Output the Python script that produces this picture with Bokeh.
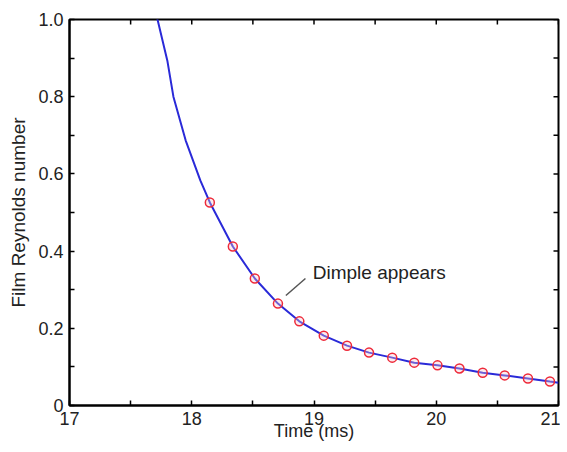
import math
from bokeh.plotting import figure
from bokeh.models import FixedTicker, Range1d
from bokeh.core.properties import value
from bokeh.embed import file_html
from bokeh.resources import INLINE

# ---- data ----
curve_time = [17.69, 17.72, 17.80, 17.85, 17.95, 18.07, 18.148, 18.336, 18.516, 18.705,
              18.88, 19.08, 19.27, 19.45, 19.64, 19.82, 20.01, 20.19, 20.38, 20.56,
              20.75, 20.93, 21.0]
curve_re = [1.06, 1.0, 0.894, 0.80, 0.687, 0.583, 0.526, 0.412, 0.329, 0.264,
            0.218, 0.181, 0.155, 0.137, 0.124, 0.111, 0.104, 0.096, 0.085, 0.078,
            0.070, 0.062, 0.059]
marker_time = [18.148, 18.336, 18.516, 18.705, 18.88, 19.08, 19.27, 19.45, 19.64,
               19.82, 20.01, 20.19, 20.38, 20.56, 20.75, 20.93]
marker_re = [0.526, 0.412, 0.329, 0.264, 0.218, 0.181, 0.155, 0.137, 0.124,
             0.111, 0.104, 0.096, 0.085, 0.078, 0.070, 0.062]

x_min, x_max = 17, 21
y_min, y_max = 0, 1.0
x_ticks = [17, 18, 19, 20, 21]
x_minor = [17.5, 18.5, 19.5, 20.5]
y_ticks = [0, 0.2, 0.4, 0.6, 0.8, 1.0]
y_minor = [0.1, 0.3, 0.5, 0.7, 0.9]
y_tick_labels = ["0", "0.2", "0.4", "0.6", "0.8", "1.0"]
x_label = "Time (ms)"
y_label = "Film Reynolds number"

note_text = ["Dimple appears"]
note_t = [18.99]
note_re = [0.345]
note_line_t0 = [18.77]
note_line_re0 = [0.285]
note_line_t1 = [18.93]
note_line_re1 = [0.329]

FONT = "Liberation Sans"
TXT = "#222222"

p = figure(width=560, height=444, x_range=Range1d(x_min, x_max), y_range=Range1d(y_min, y_max),
           output_backend="svg", toolbar_location=None,
           min_border_left=69, min_border_top=19, min_border_right=2, min_border_bottom=39)
p.grid.visible = False
p.outline_line_color = "black"
p.outline_line_width = 2
p.background_fill_color = "white"
p.border_fill_color = "white"

def style_axis(ax, ticks, minor):
    ax.ticker = FixedTicker(ticks=ticks, minor_ticks=minor)
    ax.axis_line_color = "black"
    ax.axis_line_width = 2
    ax.major_tick_in = 5
    ax.major_tick_out = 0
    ax.minor_tick_in = 5
    ax.minor_tick_out = 0
    ax.major_tick_line_width = 1.5
    ax.minor_tick_line_width = 1.5
    ax.major_tick_line_color = "black"
    ax.minor_tick_line_color = "black"
    ax.major_label_text_font = FONT
    ax.major_label_text_font_size = "18px"
    ax.major_label_text_color = TXT
    ax.axis_label_text_font = FONT
    ax.axis_label_text_font_size = "19px"
    ax.axis_label_text_font_style = "normal"
    ax.axis_label_text_color = TXT

xa = p.xaxis[0]
style_axis(xa, x_ticks, x_minor)
xa.axis_label = x_label
xa.axis_label_text_font_size = "18px"
xa.major_label_standoff = 6
xa.axis_label_standoff = -7

ya = p.yaxis[0]
style_axis(ya, y_ticks, y_minor)
ya.axis_label = y_label
ya.major_label_overrides = {t: s for t, s in zip(y_ticks, y_tick_labels)}
ya.major_label_standoff = 6
ya.axis_label_standoff = 6

# inward ticks on the top and right frame edges (half of each dash is clipped by the frame)
top_ticks = x_ticks + x_minor
p.scatter(top_ticks, [y_max] * len(top_ticks), marker="dash", angle=math.pi / 2, size=10,
          line_color="black", line_width=1.5)
right_ticks = y_ticks + y_minor
p.scatter([x_max] * len(right_ticks), right_ticks, marker="dash", size=10,
          line_color="black", line_width=1.5)

p.line(curve_time, curve_re, line_color="#2a2ad8", line_width=2)
p.scatter(marker_time, marker_re, marker="circle", size=9, fill_color="#f4c8d0", fill_alpha=0.35,
          line_color="#ee2a3a", line_width=1.5)

p.segment(x0=note_line_t0, y0=note_line_re0, x1=note_line_t1, y1=note_line_re1,
          line_color="#555555", line_width=1.5)
p.text(x=note_t, y=note_re, text=note_text, text_font=value(FONT),
       text_font_size="19px", text_baseline="middle", text_align="left",
       text_color=TXT)

open("out.html", "w").write(file_html(p, INLINE))
